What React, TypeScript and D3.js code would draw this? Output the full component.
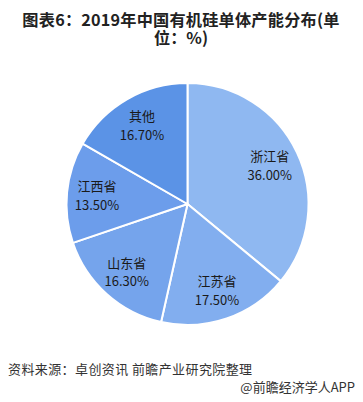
import React from 'react'
import * as d3 from 'd3'

// province shares, 2019 (%)
const provinces = ['浙江省', '江苏省', '山东省', '江西省', '其他']
const shares = [36.0, 17.5, 16.3, 13.5, 16.7]
const sliceColors = ['#8fb8f1', '#82aeef', '#75a4ec', '#6c9deb', '#5b93e6']

const titleLines = ['图表6：2019年中国有机硅单体产能分布(单', '位：%)']
const sourceText = '资料来源：卓创资讯 前瞻产业研究院整理'
const brandText = '@前瞻经济学人APP'

const W = 363
const H = 402
const FONT = '"Noto Sans CJK SC", "Noto Sans", sans-serif'

export default function App() {
  const cx = 187.5
  const cy = 204
  const radius = 121

  const slices = d3.pie<number>().sort(null).value(d => d)(shares)
  const arc = d3.arc<d3.PieArcDatum<number>>().innerRadius(0).outerRadius(radius)
  const labelArc = d3.arc<d3.PieArcDatum<number>>().innerRadius(91).outerRadius(91)

  return (
    <svg width={W} height={H} style={{ position: 'absolute', left: 0, top: 0, background: '#fff' }}>
      {/* title, wrapped like the original */}
      <text x={181} y={25.5} textAnchor="middle" fontFamily={FONT} fontWeight="bold" fontSize={16.2} fill="#222" letterSpacing={0.2}>{titleLines[0]}</text>
      <text x={181} y={43.5} textAnchor="middle" fontFamily={FONT} fontWeight="bold" fontSize={16.2} fill="#222">{titleLines[1]}</text>

      <g transform={`translate(${cx},${cy})`}>
        {slices.map((s, i) => (
          <path key={provinces[i]} d={arc(s) || ''} fill={sliceColors[i]} stroke="#fff" strokeWidth={2} strokeLinejoin="round" />
        ))}
        {slices.map((s, i) => {
          const [lx, ly] = labelArc.centroid(s)
          return (
            <g key={'l' + i} fontFamily={FONT} fontSize={13} fill="#1a1a1a" textAnchor="middle">
              <text x={lx} y={ly - 4}>{provinces[i]}</text>
              <text x={lx} y={ly + 14.5}>{shares[i].toFixed(2) + '%'}</text>
            </g>
          )
        })}
      </g>

      {/* footer */}
      <text x={8} y={374} fontFamily={FONT} fontSize={13} fill="#333" letterSpacing={0.4}>{sourceText}</text>
      <text x={355} y={392} textAnchor="end" fontFamily={FONT} fontSize={13} fill="#333">{brandText}</text>
    </svg>
  )
}
